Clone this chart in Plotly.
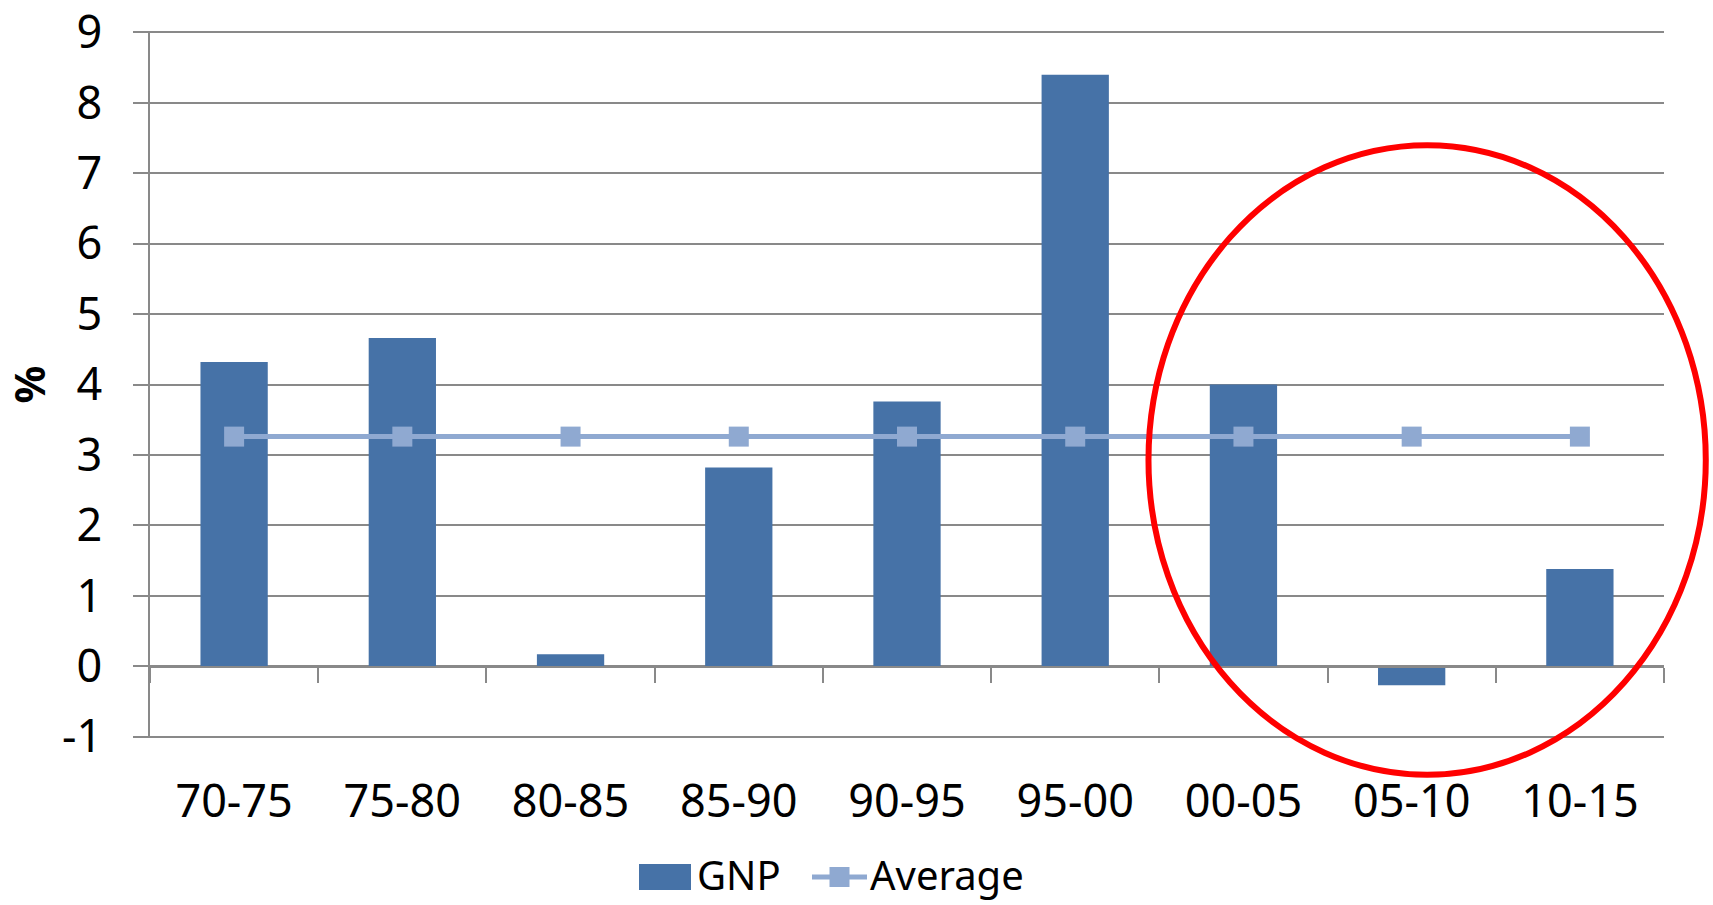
import plotly.graph_objects as go

categories = ["70-75", "75-80", "80-85", "85-90", "90-95", "95-00", "00-05", "05-10", "10-15"]
gnp = [4.32, 4.66, 0.17, 2.82, 3.76, 8.40, 4.00, -0.27, 1.38]
average = [3.26] * len(categories)
y_ticks = list(range(-1, 10))
y_tick_text = [str(v) for v in y_ticks]
legend_names = ["GNP", "Average"]

BAR = "#4672A7"
AVG = "#8FA9D1"
GRID = "#898989"
FONT = "Noto Sans"
FS = 45

W, H = 1713, 905
ML, MR, MT, MB = 150, 49, 31, 167
PW, PH = W - ML - MR, H - MT - MB


def px_x(p):
    return (p - ML) / PW


def px_y(p):
    return (H - MB - p) / PH


fig = go.Figure()
fig.add_trace(go.Bar(
    x=categories, y=gnp, name=legend_names[0],
    marker=dict(color=BAR, line=dict(width=0)),
    xaxis="x", yaxis="y", showlegend=False,
))
fig.add_trace(go.Scatter(
    x=categories, y=average, name=legend_names[1], mode="lines+markers",
    line=dict(color=AVG, width=5),
    marker=dict(symbol="square", size=20, color=AVG),
    xaxis="x2", yaxis="y", showlegend=False,
))

# legend (drawn manually so the bar swatch can be a large rectangle)
LEG_Y = 877
shapes = [
    dict(type="rect", xref="paper", yref="paper",
         x0=px_x(639), x1=px_x(691), y0=px_y(LEG_Y + 13), y1=px_y(LEG_Y - 13),
         fillcolor=BAR, line=dict(width=0)),
    dict(type="line", xref="paper", yref="paper",
         x0=px_x(812), x1=px_x(867), y0=px_y(LEG_Y), y1=px_y(LEG_Y),
         line=dict(color=AVG, width=5)),
    dict(type="rect", xref="paper", yref="paper",
         x0=px_x(829.5), x1=px_x(849.5), y0=px_y(LEG_Y + 10), y1=px_y(LEG_Y - 10),
         fillcolor=AVG, line=dict(width=0)),
    dict(type="circle", xref="paper", yref="paper",
         x0=0.6595, x1=1.0276, y0=-0.052, y1=0.8385,
         line=dict(color="#FF0000", width=6), fillcolor="rgba(0,0,0,0)"),
]
annotations = [
    dict(text=legend_names[0], xref="paper", yref="paper", x=px_x(695), y=px_y(LEG_Y - 2),
         xanchor="left", yanchor="middle", showarrow=False, font=dict(size=40)),
    dict(text=legend_names[1], xref="paper", yref="paper", x=px_x(868), y=px_y(LEG_Y - 2),
         xanchor="left", yanchor="middle", showarrow=False, font=dict(size=40)),
]

fig.update_layout(
    width=W, height=H,
    margin=dict(l=ML, r=MR, t=MT, b=MB, autoexpand=False),
    paper_bgcolor="white", plot_bgcolor="white",
    font=dict(family=FONT, size=FS, color="black"),
    bargap=0.6,
    showlegend=False,
    xaxis=dict(
        type="category", categoryorder="array", categoryarray=categories,
        range=[-0.5, 8.5], showgrid=False, showline=False, zeroline=False,
        ticks="", ticklabelstandoff=33, tickfont=dict(size=FS), automargin=False,
    ),
    xaxis2=dict(
        type="category", categoryorder="array", categoryarray=categories,
        range=[-0.5, 8.5], overlaying="x", anchor="free", position=0.1,
        showgrid=False, showline=True, linecolor=GRID, linewidth=1.5,
        ticks="outside", tickson="boundaries", ticklen=15, tickcolor=GRID, tickwidth=1.5,
        showticklabels=False, zeroline=False, automargin=False,
    ),
    yaxis=dict(
        range=[-1.02, 9.02], tickvals=y_ticks, ticktext=y_tick_text,
        showgrid=True, gridcolor=GRID, gridwidth=1.5,
        showline=True, linecolor=GRID, linewidth=1.5, zeroline=False,
        ticks="outside", ticklen=15, tickcolor=GRID, tickwidth=1.5,
        ticklabelstandoff=22, tickfont=dict(size=FS), ticklabeloverflow="allow",
        title=dict(text="<b>%</b>", standoff=45, font=dict(size=42)),
        automargin=False,
    ),
    shapes=shapes,
    annotations=annotations,
)

fig.write_html("out.html")
